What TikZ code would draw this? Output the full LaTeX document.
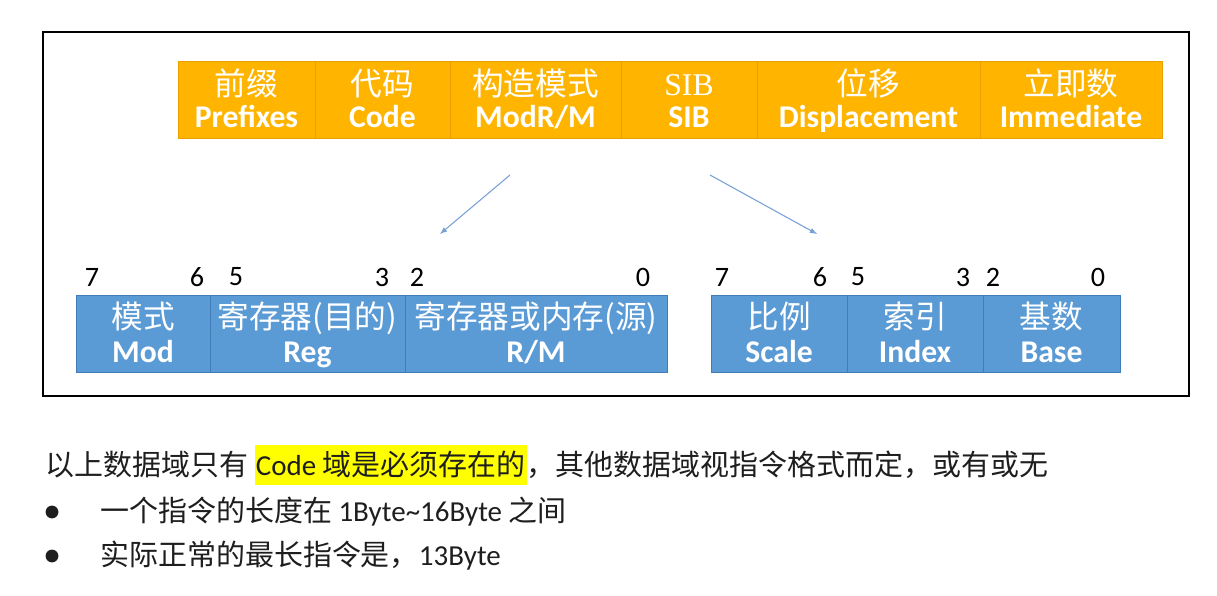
\documentclass[tikz,border=0pt]{standalone}
\usepackage{fontspec}
\setmainfont{Noto Sans CJK SC}
\newfontfamily\lat{Carlito}
\newfontfamily\sibfont{Liberation Serif}
\usetikzlibrary{arrows}

\definecolor{orbar}{RGB}{255,181,0}
\definecolor{orline}{RGB}{232,160,0}
\definecolor{blbar}{RGB}{91,155,213}
\definecolor{blline}{RGB}{65,125,185}
\definecolor{arrblue}{RGB}{120,160,215}
\definecolor{hlyellow}{RGB}{255,255,0}
\definecolor{txtgray}{RGB}{30,30,30}

\newcommand{\twolabel}[2]{\rule{0pt}{21pt}#1\\\lat\bfseries\rule[-4pt]{0pt}{4pt}#2}

\begin{document}
\begin{tikzpicture}[x=0.025cm,y=-0.025cm,
    obox/.style={draw=orline,fill=orbar,text=white,inner sep=0pt,minimum height=1.925cm,
        align=center,font=\fontsize{22.5}{23}\selectfont},
    bbox/.style={draw=blline,fill=blbar,text=white,inner sep=0pt,minimum height=1.925cm,
        align=center,font=\fontsize{22.5}{24}\selectfont},
    bitno/.style={inner sep=0pt,font=\lat\fontsize{20}{20}\selectfont},
    arr/.style={-latex,draw=arrblue,line width=0.75pt},
    noteline/.style={anchor=west,inner sep=0pt,text=txtgray,font=\fontsize{20.6}{24}\selectfont},
    dot/.style={circle,fill=txtgray,minimum size=0.32cm,inner sep=0pt}]
        \useasboundingbox (0,0) rectangle (1217,596);
        \fill[white] (0,0) rectangle (1217,596);
        \draw[line width=0.8pt] (43,32) rectangle (1189,396);

        % instruction format
        \node[obox,minimum width=3.425cm] (pre) at (246.5,99.5) {\twolabel{前缀}{Prefixes}};
        \node[obox,minimum width=3.375cm] (code) at (382.5,99.5) {\twolabel{代码}{Code}};
        \node[obox,minimum width=4.275cm] (modrm) at (535.5,99.5) {\twolabel{构造模式}{ModR/M}};
        \node[obox,minimum width=3.4cm] (sib) at (689,99.5) {\twolabel{\sibfont SIB}{SIB}};
        \node[obox,minimum width=5.575cm] (disp) at (868.5,99.5) {\twolabel{位移}{Displacement}};
        \node[obox,minimum width=4.55cm] (imm) at (1071,99.5) {\twolabel{立即数}{Immediate}};

        % ModR/M byte
        \node[bbox,minimum width=3.35cm] (mod) at (143,333.5) {\twolabel{模式}{Mod}};
        \node[bbox,minimum width=4.875cm] (reg) at (307.5,333.5) {\twolabel{寄存器(目的)}{Reg}};
        \node[bbox,minimum width=6.55cm] (rm) at (536,333.5) {\twolabel{寄存器或内存(源)}{R/M}};

        % SIB byte
        \node[bbox,minimum width=3.4cm] (scale) at (779,333.5) {\twolabel{比例}{Scale}};
        \node[bbox,minimum width=3.4cm] (index) at (915,333.5) {\twolabel{索引}{Index}};
        \node[bbox,minimum width=3.425cm] (base) at (1051.5,333.5) {\twolabel{基数}{Base}};

        \foreach \x/\b in {92/7,197/6,236/5,382/3,417/2,643/0,722/7,820/6,858/5,963/3,993/2,1098/0}
            \node[bitno] (bit\x) at (\x,277) {\b};

        \coordinate (mfrom) at (510,175);
        \coordinate (mto) at (440,234);
        \coordinate (sfrom) at (710,175);
        \coordinate (sto) at (817,234);
        \draw[arr] (mfrom) -- (mto);
        \draw[arr] (sfrom) -- (sto);

        % notes
        \node[noteline] (note) at (45,465) {以上数据域只有 {\fboxsep=1pt\colorbox{hlyellow}{\rule[-6pt]{0pt}{27pt}{\lat Code} 域是必须存在的}}，其他数据域视指令格式而定，或有或无};
        \node[dot] (dot1) at (52,512) {};
        \node[noteline] (len) at (100,512) {一个指令的长度在 {\lat 1Byte\textasciitilde 16Byte} 之间};
        \node[dot] (dot2) at (52,556) {};
        \node[noteline] (max) at (100,556) {实际正常的最长指令是，{\lat 13Byte}};
    \end{tikzpicture}
\end{document}
